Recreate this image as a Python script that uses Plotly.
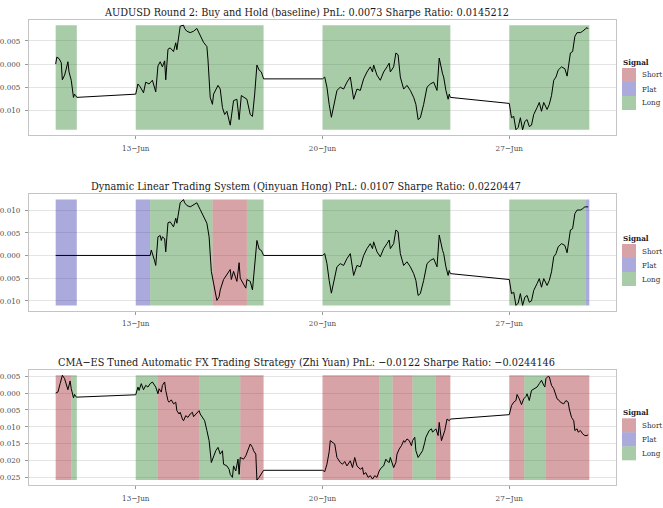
import numpy as np
import pandas as pd
import plotly.graph_objects as go

# ---------------- data (hours since 10-Jun 00:00) ----------------
p1_hours = [0, 1, 3, 5, 6, 8, 9, 11, 12, 14, 16, 17, 18, 19,
            72, 74, 76, 79, 81, 84, 87, 89, 90, 92, 94, 96, 98, 99, 101, 103, 106, 108, 109, 112,
            115, 116, 118, 121, 124, 127, 130, 133, 136, 137, 139, 141, 142, 144, 146, 148, 150, 152, 154, 157,
            159, 160, 163, 165, 167, 169, 172, 175, 177, 179, 181, 183, 185, 187,
            240, 242, 244, 246, 248, 253, 256, 259, 262, 265, 268, 271, 274, 277, 280, 283, 285, 286, 289, 292,
            295, 298, 300, 301, 304, 306, 308, 310, 313, 316, 319, 322, 324, 326, 328, 331, 334, 337, 340, 343,
            345, 348, 349, 351, 353, 354, 355,
            408, 410, 412, 414, 416, 418, 420, 422, 424, 426, 428, 430, 433, 435, 437, 439, 442, 444, 446, 448,
            450, 452, 455, 458, 460, 463, 465, 467, 469, 472, 474, 476, 478, 479]
p1_values = [0.0000, 0.0015, 0.0012, 0.0003, -0.0034, -0.0024, -0.0015, 0.0005, -0.0017, -0.0035, -0.0072, -0.0065, -0.0068, -0.0072,
             -0.0065, -0.0043, -0.0049, -0.0062, -0.0039, -0.0043, -0.0035, -0.0052, -0.0060, -0.0004,
             0.0005, -0.0006, 0.0007, -0.0034, 0.0032, 0.0035, 0.0027, 0.0046, 0.0031, 0.0082,
             0.0084, 0.0077, 0.0071, 0.0068, 0.0071, 0.0077, 0.0060, 0.0047, 0.0038, 0.0009,
             -0.0072, -0.0087, -0.0065, -0.0056, -0.0046, -0.0054, -0.0094, -0.0109, -0.0102, -0.0132,
             -0.0102, -0.0079, -0.0076, -0.0120, -0.0068, -0.0072, -0.0076, -0.0109, -0.0113, -0.0065,
             -0.0002, -0.0013, -0.0017, -0.0032,
             -0.0032, -0.0028, -0.0050, -0.0087, -0.0115, -0.0057, -0.0050, -0.0054, -0.0039, -0.0028,
             -0.0076, -0.0054, -0.0057, -0.0032, -0.0017, -0.0006, -0.0017, -0.0002, -0.0024, -0.0035,
             -0.0017, -0.0006, 0.0002, -0.0017, -0.0006, 0.0024, 0.0020, -0.0028, -0.0054, -0.0046,
             -0.0057, -0.0072, -0.0087, -0.0120, -0.0116, -0.0087, -0.0050, -0.0043, -0.0039, -0.0057,
             0.0013, -0.0021, -0.0028, -0.0057, -0.0076, -0.0065, -0.0072,
             -0.0085, -0.0116, -0.0113, -0.0142, -0.0137, -0.0116, -0.0142, -0.0124, -0.0120, -0.0135,
             -0.0132, -0.0109, -0.0094, -0.0083, -0.0102, -0.0083, -0.0098, -0.0087, -0.0068, -0.0035,
             -0.0028, -0.0013, -0.0006, -0.0010, -0.0026, 0.0024, 0.0027, 0.0060, 0.0068, 0.0068,
             0.0071, 0.0075, 0.0079, 0.0076]

p2_hours = [0, 19,
            72, 84, 85, 86, 88, 89, 90, 92, 94, 95, 96, 98, 99, 101, 103, 106, 108, 109, 112, 115,
            116, 118, 121, 124, 127, 130, 133, 136, 138, 140, 142, 145, 147, 148, 151, 154, 157, 158, 160, 163,
            165, 166, 169, 171, 172, 175, 177, 179, 181, 183, 185, 187,
            240, 242, 244, 246, 248, 253, 256, 259, 262, 265, 268, 271, 274, 277, 280, 283, 285, 286, 289, 292,
            295, 298, 300, 301, 304, 306, 308, 310, 313, 316, 319, 322, 324, 326, 328, 331, 334, 337, 340, 343,
            345, 348, 349, 351, 353, 354, 355,
            408, 410, 412, 414, 416, 418, 420, 422, 424, 426, 428, 430, 433, 435, 437, 439, 442, 444, 446, 448,
            450, 452, 455, 458, 460, 463, 465, 467, 469, 472, 474, 476, 478, 479]
p2_values = [0.0, 0.0,
             0.0, 0.0, 0.0, 0.0012, -0.0001, -0.0012, -0.0022, 0.0041, 0.0044, 0.0033,
             0.0041, 0.0037, 0.0008, 0.0072, 0.0074, 0.0063, 0.0082, 0.0071, 0.0116, 0.0123,
             0.0116, 0.0110, 0.0107, 0.0112, 0.0116, 0.0101, 0.0086, 0.0071, 0.0041, -0.0035,
             -0.0061, -0.0099, -0.0091, -0.0076, -0.0053, -0.0042, -0.0031, -0.0053, -0.0035, -0.0057,
             -0.0016, -0.0050, -0.0065, -0.0072, -0.0053, -0.0057, -0.0076, -0.0027, 0.0033, 0.0014,
             0.0011, 0.0000,
             0.0000, 0.0004, -0.0018, -0.0055, -0.0083, -0.0025, -0.0018, -0.0022, -0.0007, 0.0004,
             -0.0044, -0.0022, -0.0025, 0.0000, 0.0015, 0.0026, 0.0015, 0.0030, 0.0008, -0.0003,
             0.0015, 0.0026, 0.0034, 0.0015, 0.0026, 0.0056, 0.0052, 0.0004, -0.0022, -0.0014,
             -0.0025, -0.0040, -0.0055, -0.0088, -0.0084, -0.0055, -0.0018, -0.0011, -0.0007, -0.0025,
             0.0045, 0.0011, 0.0004, -0.0025, -0.0044, -0.0033, -0.0040,
             -0.0053, -0.0084, -0.0081, -0.0110, -0.0105, -0.0084, -0.0110, -0.0092, -0.0088, -0.0103,
             -0.0100, -0.0077, -0.0062, -0.0051, -0.0070, -0.0051, -0.0066, -0.0055, -0.0036, -0.0003,
             0.0004, 0.0019, 0.0026, 0.0022, 0.0006, 0.0056, 0.0059, 0.0092, 0.0100, 0.0100,
             0.0103, 0.0107, 0.0107, 0.0107]

p3_hours = [0, 2, 4, 6, 8, 10, 11, 13, 14, 16, 17, 18, 19,
            72, 74, 75, 77, 79, 81, 83, 85, 87, 89, 90, 92, 93, 95, 96, 98, 99, 101, 102, 104,
            106, 108, 109, 111, 112, 114, 115, 117, 119, 121, 123, 124, 127, 129, 130, 132, 134, 136, 138, 140,
            142, 144, 146, 148, 150, 151, 154, 156, 157, 159, 160, 162, 164, 165, 166, 169, 171, 173, 175, 177,
            178, 180, 181, 183, 185, 187,
            240, 242, 244, 246, 247, 249, 251, 253, 256, 258, 260, 262, 265, 267, 269, 271, 274, 276, 277, 279,
            281, 283, 285, 287, 289, 291, 293, 295, 297, 298, 300, 301, 303, 304, 306, 307, 309, 311, 313, 314,
            316, 318, 320, 321, 323, 324, 326, 328, 330, 332, 333, 336, 338, 339, 341, 342, 344, 345, 347, 348,
            350, 352, 354, 355,
            408, 410, 412, 414, 415, 417, 419, 421, 423, 424, 426, 428, 430, 433, 435, 437, 439, 440, 441, 443,
            444, 446, 448, 450, 451, 453, 454, 457, 459, 461, 462, 464, 466, 467, 469, 470, 472, 474, 476, 478,
            479]
p3_values = [0.0000, 0.0003, 0.0028, 0.0053, 0.0043, 0.0018, 0.0010, 0.0036, 0.0013, -0.0014, -0.0004, -0.0010, -0.0012,
             -0.0005, 0.0018, 0.0008, 0.0028, 0.0010, 0.0023, 0.0018, 0.0028, 0.0033, 0.0023,
             0.0018, -0.0002, 0.0013, 0.0003, 0.0023, 0.0033, 0.0008, -0.0022, -0.0027, -0.0020,
             -0.0032, -0.0027, -0.0052, -0.0062, -0.0057, -0.0077, -0.0082, -0.0067, -0.0072, -0.0062,
             -0.0057, -0.0070, -0.0060, -0.0052, -0.0062, -0.0074, -0.0082, -0.0111, -0.0141, -0.0206,
             -0.0186, -0.0171, -0.0161, -0.0181, -0.0171, -0.0211, -0.0216, -0.0226, -0.0241, -0.0250,
             -0.0216, -0.0231, -0.0196, -0.0241, -0.0191, -0.0196, -0.0186, -0.0171, -0.0151, -0.0161,
             -0.0171, -0.0181, -0.0258, -0.0250, -0.0241, -0.0229,
             -0.0229, -0.0233, -0.0211, -0.0174, -0.0141, -0.0146, -0.0151, -0.0191, -0.0206, -0.0211,
             -0.0203, -0.0216, -0.0201, -0.0221, -0.0191, -0.0216, -0.0226, -0.0221, -0.0241, -0.0236,
             -0.0250, -0.0245, -0.0255, -0.0245, -0.0250, -0.0231, -0.0221, -0.0216, -0.0196, -0.0201,
             -0.0206, -0.0191, -0.0216, -0.0221, -0.0206, -0.0181, -0.0166, -0.0156, -0.0141, -0.0146,
             -0.0136, -0.0141, -0.0156, -0.0141, -0.0131, -0.0171, -0.0191, -0.0181, -0.0171, -0.0146,
             -0.0131, -0.0111, -0.0106, -0.0116, -0.0111, -0.0106, -0.0126, -0.0087, -0.0141, -0.0131,
             -0.0111, -0.0077, -0.0082, -0.0077,
             -0.0064, -0.0037, -0.0027, -0.0022, -0.0004, -0.0017, -0.0034, -0.0017, -0.0010, -0.0002,
             -0.0022, 0.0008, 0.0013, 0.0018, 0.0028, 0.0038, 0.0023, 0.0018, 0.0043, 0.0050,
             0.0048, 0.0023, 0.0013, -0.0007, -0.0017, -0.0022, -0.0027, -0.0032, -0.0022, -0.0027,
             -0.0047, -0.0072, -0.0082, -0.0111, -0.0106, -0.0116, -0.0111, -0.0121, -0.0126, -0.0126,
             -0.0123]

# signal periods (start hour, end hour, signal)
p1_sig_start = [0, 72, 240, 408]
p1_sig_end = [19, 187, 355, 480]
p1_sig = ["Long", "Long", "Long", "Long"]

p2_sig_start = [0, 72, 85, 141, 172, 240, 408, 477]
p2_sig_end = [19, 85, 141, 172, 187, 355, 477, 480]
p2_sig = ["Flat", "Flat", "Long", "Short", "Long", "Long", "Long", "Flat"]

p3_sig_start = [0, 14, 72, 91.5, 129, 166, 240, 291, 303, 321, 342, 408, 421.5, 441]
p3_sig_end = [14, 19, 91.5, 129, 166, 187, 291, 303, 321, 342, 355, 421.5, 441, 480]
p3_sig = ["Short", "Long", "Long", "Short", "Long", "Short", "Short", "Long", "Short", "Long", "Short",
          "Short", "Long", "Short"]

# y-axis tick values shown in each panel
p1_yticks = [-0.010, -0.005, 0.000, 0.005]
p2_yticks = [-0.010, -0.005, 0.000, 0.005, 0.010]
p3_yticks = [-0.025, -0.020, -0.015, -0.010, -0.005, 0.000, 0.005]

titles = [
    "AUDUSD Round 2: Buy and Hold (baseline) PnL: 0.0073 Sharpe Ratio: 0.0145212",
    "Dynamic Linear Trading System (Qinyuan Hong) PnL: 0.0107 Sharpe Ratio: 0.0220447",
    "CMA\u2212ES Tuned Automatic FX Trading Strategy (Zhi Yuan) PnL: \u22120.0122 Sharpe Ratio: \u22120.0244146",
]
signal_levels = ["Short", "Flat", "Long"]
signal_colors = {"Short": "rgba(158,25,33,0.40)", "Flat": "rgba(43,43,170,0.40)", "Long": "rgba(38,128,38,0.40)"}
tick_dates = ["2019-06-13", "2019-06-20", "2019-06-27"]
tick_labels = ["13\u2212Jun", "20\u2212Jun", "27\u2212Jun"]

# ---------------- figure ----------------
W, H = 663, 508
base = pd.Timestamp("2019-06-10")
FONT = "DejaVu Serif Condensed, DejaVu Serif, serif"


def to_time(h):
    return base + pd.to_timedelta(np.asarray(h, dtype=float), unit="h")


def px(x):
    return x / W


def py(y):
    return 1 - y / H


panels = [
    dict(h=p1_hours, v=p1_values, s=p1_sig_start, e=p1_sig_end, g=p1_sig, yt=p1_yticks, top=20, bot=135, leg=68),
    dict(h=p2_hours, v=p2_values, s=p2_sig_start, e=p2_sig_end, g=p2_sig, yt=p2_yticks, top=194.3, bot=310.7, leg=244),
    dict(h=p3_hours, v=p3_values, s=p3_sig_start, e=p3_sig_end, g=p3_sig, yt=p3_yticks, top=370, bot=485.3, leg=418.3),
]

fig = go.Figure()
layout = dict(width=W, height=H, margin=dict(l=0, r=0, t=0, b=0),
              paper_bgcolor="white", plot_bgcolor="white", showlegend=False,
              font=dict(family=FONT, size=8, color="#4D4D4D"))
annotations = []
shapes = []

x_lo = base + pd.Timedelta(hours=-24)
x_hi = base + pd.Timedelta(hours=504)

for i, p in enumerate(panels):
    n = "" if i == 0 else str(i + 1)
    xa, ya = "x" + n, "y" + n
    assert len(p["h"]) == len(p["v"])
    vals = np.array(p["v"])
    lo, hi = vals.min(), vals.max()
    span = hi - lo
    # shaded signal rectangles
    for lvl in signal_levels:
        xs, ys = [], []
        for s, e, g in zip(p["s"], p["e"], p["g"]):
            if g != lvl:
                continue
            t0, t1 = to_time([s, e])
            xs += [t0, t1, t1, t0, t0, None]
            ys += [lo, lo, hi, hi, lo, None]
        if xs:
            fig.add_trace(go.Scatter(x=xs, y=ys, xaxis=xa, yaxis=ya, mode="lines", fill="toself",
                                     fillcolor=signal_colors[lvl], line=dict(width=0),
                                     hoverinfo="skip", name=lvl))
    fig.add_trace(go.Scatter(x=to_time(p["h"]), y=vals, xaxis=xa, yaxis=ya, mode="lines",
                             line=dict(color="black", width=1.0), name="PnL"))

    layout["xaxis" + n] = dict(
        domain=[px(29), px(616)], anchor=ya, type="date", range=[x_lo, x_hi],
        tickvals=pd.to_datetime(tick_dates), ticktext=tick_labels,
        showgrid=False, zeroline=False, showline=True, mirror=True, linecolor="#C4C4C4", linewidth=1,
        ticks="outside", ticklen=3, tickcolor="#9A9A9A", tickwidth=1, ticklabelstandoff=2,
        tickfont=dict(family=FONT, size=8, color="#4D4D4D"), automargin=False)
    layout["yaxis" + n] = dict(
        domain=[py(p["bot"]), py(p["top"])], anchor=xa,
        range=[lo - 0.05 * span, hi + 0.05 * span], tickmode="array", tickvals=p["yt"],
        tickformat=".3f",
        showgrid=True, gridcolor="#E4E4E4", gridwidth=0.8, zeroline=False,
        showline=True, mirror=True, linecolor="#C4C4C4", linewidth=1,
        ticks="outside", ticklen=3, tickcolor="#9A9A9A", tickwidth=1, ticklabelstandoff=3,
        tickfont=dict(family=FONT, size=8, color="#4D4D4D"), automargin=False)

    # panel title
    annotations.append(dict(text=titles[i], x=px(306), y=py(p["top"] - 7.5), xref="paper", yref="paper",
                            xanchor="center", yanchor="middle", showarrow=False,
                            font=dict(family=FONT, size=10.8, color="#1A1A1A")))
    # legend
    annotations.append(dict(text="<b>Signal</b>", x=px(621), y=py(p["leg"] - 6), xref="paper", yref="paper",
                            xanchor="left", yanchor="middle", showarrow=False,
                            font=dict(family=FONT, size=8, color="#1A1A1A")))
    for k, lvl in enumerate(signal_levels):
        t = p["leg"] + 14 * k
        shapes.append(dict(type="rect", xref="paper", yref="paper", x0=px(622), x1=px(636),
                           y0=py(t + 14), y1=py(t), fillcolor=signal_colors[lvl], line=dict(width=0)))
        annotations.append(dict(text=lvl, x=px(640), y=py(t + 7), xref="paper", yref="paper",
                                xanchor="left", yanchor="middle", showarrow=False,
                                font=dict(family=FONT, size=8, color="#333333")))

layout["annotations"] = annotations
layout["shapes"] = shapes
fig.update_layout(**layout)
fig.write_html("out.html")
